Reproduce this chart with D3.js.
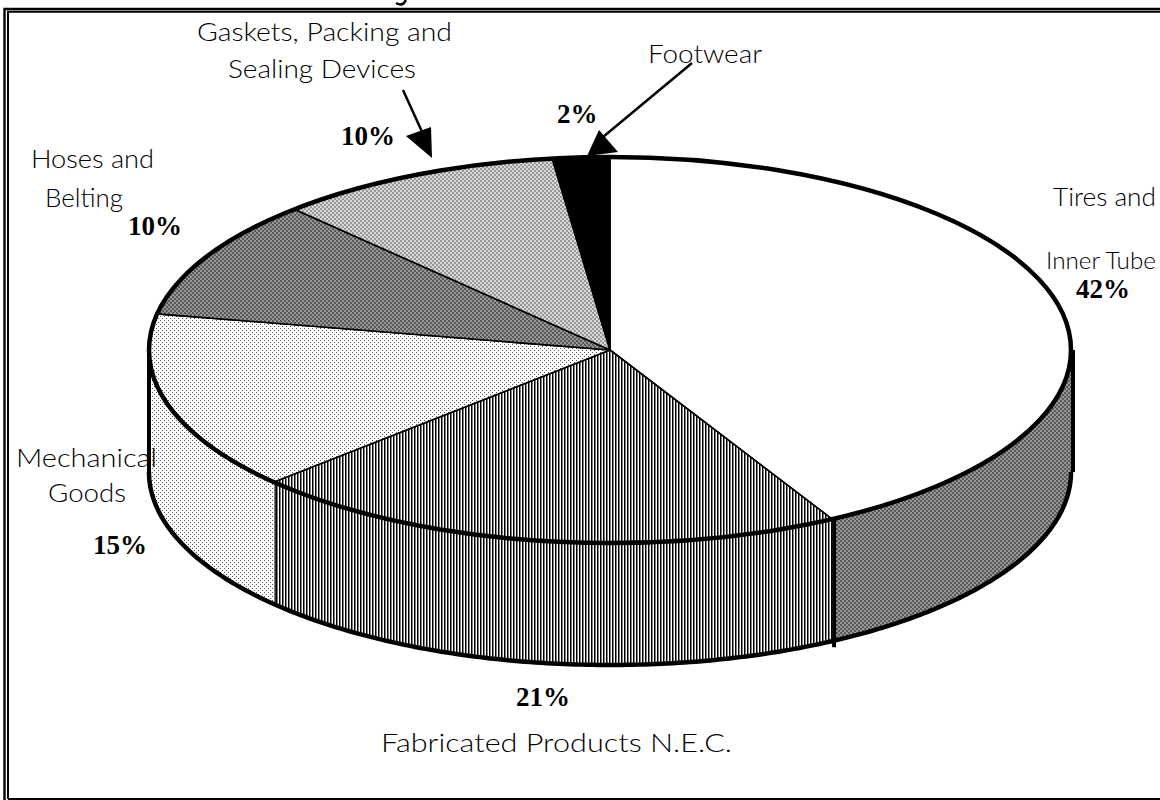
<!DOCTYPE html>
<html>
<head>
<meta charset="utf-8">
<script src="https://cdn.jsdelivr.net/npm/d3@7"></script>
<style>
    html, body { margin: 0; padding: 0; background: #ffffff; overflow: hidden; }
    svg { display: block; }
    .name-label { font-family: Lato, "Open Sans", sans-serif; font-weight: 300; font-size: 25.5px; fill: #000; }
    .pct-label { font-family: "Liberation Serif", serif; font-weight: bold; font-size: 27px; fill: #000; }
</style>
</head>
<body>
<div id="chart"></div>
<script>
// Values, clockwise from 12 o'clock
const categories = ['Tires and Inner Tube', 'Fabricated Products N.E.C.', 'Mechanical Goods', 'Hoses and Belting', 'Gaskets, Packing and Sealing Devices', 'Footwear'];
const shares = [42, 21, 15, 10, 10, 2];
const patternIds = ['none', 'stripes', 'dots', 'dark', 'light', 'solid'];
const wallPatternIds = ['dark', 'stripes', 'dots', 'dark', 'light', 'solid'];

const width = 1160;
const height = 800;
const cx = 610, cy = 350, rx = 461, ry = 193, depth = 122;

// label layout: [text line, x, baseline, target width, optional font size]
const nameLabels = [
    ['Gaskets, Packing and', 197, 41, 255],
    ['Sealing Devices', 228, 78, 188],
    ['Footwear', 648, 63, 114],
    ['Hoses and', 31, 168, 123],
    ['Belting', 45, 207, 78],
    ['Tires and', 1053, 206, 103],
    ['Inner Tube', 1046, 269, 110, 23.5],
    ['Mechanical', 16, 467, 141],
    ['Goods', 48, 502, 78],
    ['Fabricated Products N.E.C.', 381, 752, 351]
];
const pctLabels = [
    ['42%', 1076, 298],
    ['21%', 516, 706],
    ['15%', 93, 554],
    ['10%', 128, 235],
    ['10%', 341, 145],
    ['2%', 557, 123]
];

const svg = d3.select('#chart').append('svg')
    .attr('width', width)
    .attr('height', height);

// Fill patterns
const defs = svg.append('defs');

function checker(id, size, back, front) {
    const p = defs.append('pattern')
        .attr('id', id)
        .attr('patternUnits', 'userSpaceOnUse')
        .attr('width', size * 2)
        .attr('height', size * 2);
    p.append('rect').attr('width', size * 2).attr('height', size * 2).attr('fill', back);
    p.append('rect').attr('width', size).attr('height', size).attr('fill', front);
    p.append('rect').attr('x', size).attr('y', size).attr('width', size).attr('height', size).attr('fill', front);
}
checker('dark', 2, '#969696', '#5a5a5a');
checker('light', 2, '#d8d8d8', '#989898');

const stripes = defs.append('pattern')
    .attr('id', 'stripes')
    .attr('patternUnits', 'userSpaceOnUse')
    .attr('width', 3)
    .attr('height', 3);
stripes.append('rect').attr('width', 3).attr('height', 3).attr('fill', '#fff');
stripes.append('rect').attr('width', 1.5).attr('height', 3).attr('fill', '#000');

const dots = defs.append('pattern')
    .attr('id', 'dots')
    .attr('patternUnits', 'userSpaceOnUse')
    .attr('width', 4)
    .attr('height', 4);
dots.append('rect').attr('width', 4).attr('height', 4).attr('fill', '#fff');
dots.append('rect').attr('width', 1).attr('height', 1).attr('fill', '#555');
dots.append('rect').attr('x', 2).attr('y', 2).attr('width', 1).attr('height', 1).attr('fill', '#555');

function fillFor(id) {
    if (id === 'none') return '#fff';
    if (id === 'solid') return '#000';
    return `url(#${id})`;
}

// Frame
const frame = svg.append('g').attr('class', 'frame').attr('fill', 'none').attr('stroke', '#000');
frame.append('path').attr('d', `M4.5,${height} V9 H${width}`).attr('stroke-width', 2.4);
frame.append('path').attr('d', `M8,${height - 1} V11.7 H${width}`).attr('stroke-width', 2);
frame.append('path').attr('d', `M8,${height - 1} H${width}`).attr('stroke-width', 2);

// Bottom of the cut-off title line above the frame
svg.append('path')
    .attr('d', 'M396,3 Q401,6 404,3 L406,0')
    .attr('fill', 'none')
    .attr('stroke', '#000')
    .attr('stroke-width', 2.5);

// Pie geometry: unit circle squashed through the scales
const xScale = d3.scaleLinear().domain([-1, 1]).range([cx - rx, cx + rx]);
const yScale = d3.scaleLinear().domain([-1, 1]).range([cy - ry, cy + ry]);

const pie = d3.pie().sort(null).value(d => d)(shares);

const px = a => xScale(Math.sin(a));
const py = a => yScale(-Math.cos(a));
const arcAngles = (a0, a1) => {
    const n = Math.max(2, Math.ceil((a1 - a0) * 80));
    return d3.range(n + 1).map(i => a0 + (a1 - a0) * i / n);
};
const line = d3.line();

// Side walls (front half of the disc only)
const wallFrom = Math.PI / 2, wallTo = Math.PI * 1.5;
const walls = svg.append('g').attr('class', 'walls');

pie.forEach((d, i) => {
    const a0 = Math.max(d.startAngle, wallFrom);
    const a1 = Math.min(d.endAngle, wallTo);
    if (a1 <= a0) return;
    const angles = arcAngles(a0, a1);
    const top = angles.map(a => [px(a), py(a)]);
    const bottom = angles.slice().reverse().map(a => [px(a), py(a) + depth]);
    walls.append('path')
        .attr('d', line(top.concat(bottom)) + 'Z')
        .attr('fill', fillFor(wallPatternIds[i]));
});

// Wall outlines
const frontAngles = arcAngles(wallFrom, wallTo);
walls.append('path')
    .attr('d', line(frontAngles.map(a => [px(a), py(a) + depth])))
    .attr('fill', 'none')
    .attr('stroke', '#000')
    .attr('stroke-width', 4.5);
[wallFrom, wallTo].forEach(a => {
    const off = a === wallFrom ? 2 : 0;
    walls.append('path')
        .attr('d', line([[px(a) + off, py(a)], [px(a) + off, py(a) + depth]]))
        .attr('stroke', '#000')
        .attr('stroke-width', 4);
});

// Dividers on the wall at slice boundaries
walls.append('path')
    .attr('d', line([[px(pie[0].endAngle) + 2, py(pie[0].endAngle)], [px(pie[0].endAngle) + 2, py(pie[0].endAngle) + depth + 6]]))
    .attr('stroke', '#000')
    .attr('stroke-width', 4);
walls.append('path')
    .attr('d', line([[px(pie[1].endAngle) + 2, py(pie[1].endAngle)], [px(pie[1].endAngle) + 2, py(pie[1].endAngle) + depth]]))
    .attr('stroke', '#000')
    .attr('stroke-width', 1.5);

// Top face slices
const slices = svg.append('g').attr('class', 'slices');
pie.forEach((d, i) => {
    const rim = arcAngles(d.startAngle, d.endAngle).map(a => [px(a), py(a)]);
    slices.append('path')
        .attr('d', line([[xScale(0), yScale(0)], ...rim]) + 'Z')
        .attr('fill', fillFor(patternIds[i]))
        .attr('stroke', '#000')
        .attr('stroke-width', 1.6)
        .attr('stroke-linejoin', 'bevel');
});

// Heavy rim
slices.append('ellipse')
    .attr('cx', xScale(0))
    .attr('cy', yScale(0))
    .attr('rx', rx)
    .attr('ry', ry)
    .attr('fill', 'none')
    .attr('stroke', '#000')
    .attr('stroke-width', 4.5);

// Leader arrows
const arrows = svg.append('g').attr('class', 'arrows');
arrows.append('path')
    .attr('d', 'M403,90 L423,134')
    .attr('stroke', '#000')
    .attr('stroke-width', 2.5);
arrows.append('path')
    .attr('d', 'M406,136 L431,127 L432,158 Z')
    .attr('fill', '#000');
arrows.append('path')
    .attr('d', 'M692,63 L603,137')
    .attr('stroke', '#000')
    .attr('stroke-width', 2.5);
arrows.append('path')
    .attr('d', 'M587,156 L599,130 L618,152 Z')
    .attr('fill', '#000');

// Text
svg.append('g').selectAll('text')
    .data(nameLabels)
    .enter()
    .append('text')
    .attr('class', 'name-label')
    .attr('x', d => d[1])
    .attr('y', d => d[2])
    .attr('textLength', d => d[3])
    .attr('lengthAdjust', 'spacingAndGlyphs')
    .style('font-size', d => d[4] ? `${d[4]}px` : null)
    .text(d => d[0]);

svg.append('g').selectAll('text')
    .data(pctLabels)
    .enter()
    .append('text')
    .attr('class', 'pct-label')
    .attr('x', d => d[1])
    .attr('y', d => d[2])
    .text(d => d[0]);
</script>
</body>
</html>
